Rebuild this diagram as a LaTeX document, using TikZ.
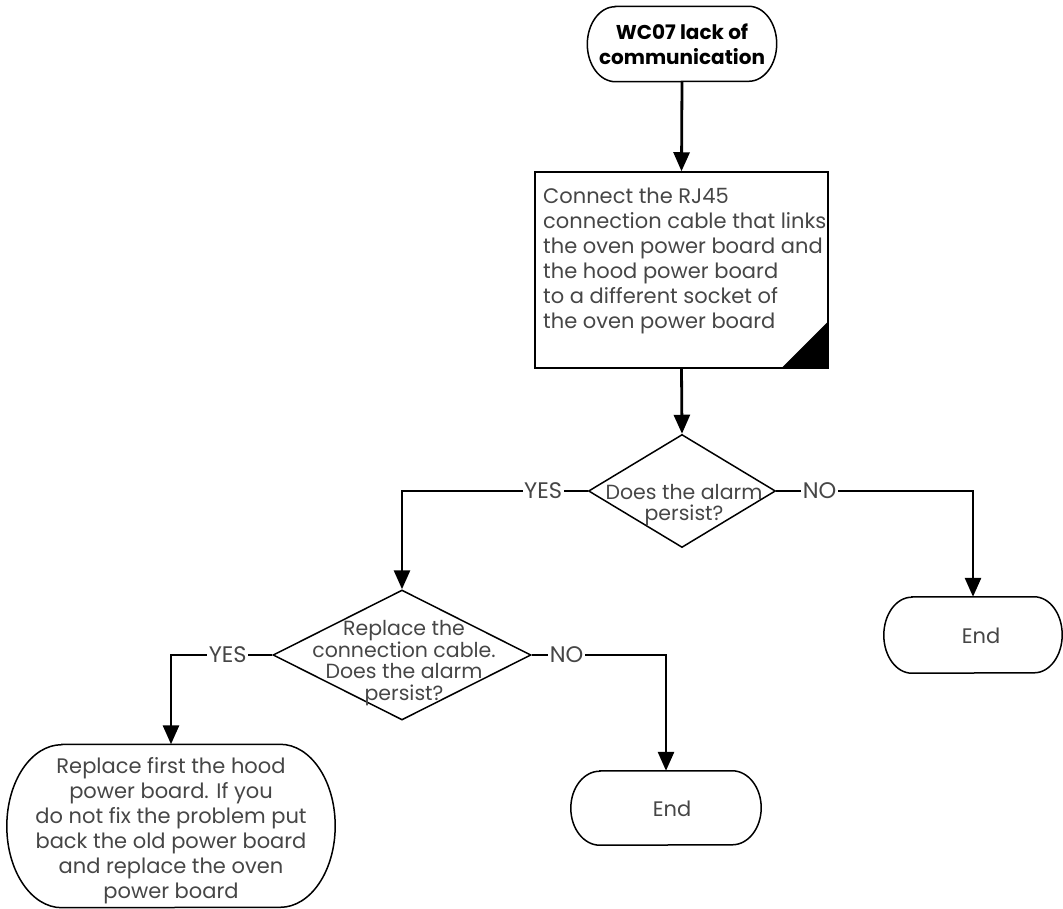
\documentclass[tikz,border=0pt]{standalone}
\usepackage{fontspec}
\setmainfont{Poppins}
\usetikzlibrary{shapes.geometric,arrows.meta}
\definecolor{txt}{RGB}{70,70,70}
\newcommand{\stadium}[3]{% node name, x radius, y radius
  \draw[line width=1.5pt] ([xshift=#2pt]#1.north west) -- ([xshift=-#2pt]#1.north east)
    arc[start angle=90, end angle=-90, x radius=#2pt, y radius=#3pt]
    -- ([xshift=#2pt]#1.south west)
    arc[start angle=270, end angle=90, x radius=#2pt, y radius=#3pt] -- cycle;}
\begin{document}
\begin{tikzpicture}[x=1pt,y=-1pt,
  term/.style={rectangle, inner sep=0pt},
  proc/.style={draw, line width=1.5pt, rectangle, inner sep=0pt},
  dec/.style={draw, line width=1.5pt, diamond, inner sep=0pt},
  body/.style={text=txt, font=\fontsize{21}{25}\selectfont, inner sep=0pt},
  dtext/.style={text=txt, font=\fontsize{20.5}{21.5}\selectfont, inner sep=0pt, align=center},
  conn/.style={line width=2.8pt, -{Triangle[length=19pt,width=16pt]}},
  lbl/.style={fill=white, text=txt, font=\fontsize{22.5}{24}\selectfont, inner sep=1.5pt}
]
\useasboundingbox (0,0) rectangle (1063,909);

% start
\node[term, minimum width=189, minimum height=75] (start) at (682,44) {};
\stadium{start}{28}{37.5}
\node[inner sep=0pt, align=center, font=\bfseries\fontsize{20}{25}\selectfont] (starttxt) at (682,44) {WC07 lack of\\communication};

% process box
\node[proc, minimum width=293, minimum height=196] (box) at (681.5,270) {};
\node[body, anchor=north west, align=left] (boxtxt) at (543,188) {Connect the RJ45\\connection cable that links\\the oven power board and\\the hood power board\\to a different socket of\\the oven power board};
\fill (box.south east) -- ++(-48,0) -- ++(48,-48) -- cycle;

% decision 1
\node[dec, minimum width=187, minimum height=113] (d1) at (682,491) {};
\node[dtext] (d1txt) at (684,505) {Does the alarm\\persist?};

% decision 2
\node[dec, minimum width=258, minimum height=130] (d2) at (402,655) {};
\node[dtext] (d2txt) at (404,663) {Replace the\\connection cable.\\Does the alarm\\persist?};

% terminals
\node[term, minimum width=178, minimum height=76] (end1) at (973,635) {};
\stadium{end1}{28}{38}
\node[body] (end1txt) at (981,636) {End};
\node[term, minimum width=190, minimum height=74] (end2) at (666,808) {};
\stadium{end2}{29}{37}
\node[body] (end2txt) at (672,809) {End};
\node[term, minimum width=328, minimum height=163] (fin) at (171,826) {};
\stadium{fin}{55}{81.5}
\node[body, align=center] (fintxt) at (171,831) {Replace first the hood\\power board. If you\\do not fix the problem put\\back the old power board\\and replace the oven\\power board};

% connectors
\draw[conn] (start.south) -- (box.north);
\draw[conn] (box.south) -- (d1.north);
\draw[conn] (d1.west) -| node[lbl, pos=0.12] (yes1) {YES} (d2.north);
\draw[conn] (d1.east) -| node[lbl, pos=0.11] (no1) {NO} (end1.north);
\draw[conn] (d2.west) -| node[lbl, pos=0.22] (yes2) {YES} (fin.north);
\draw[conn] (d2.east) -| node[lbl, pos=0.13] (no2) {NO} (end2.north);
\end{tikzpicture}
\end{document}
